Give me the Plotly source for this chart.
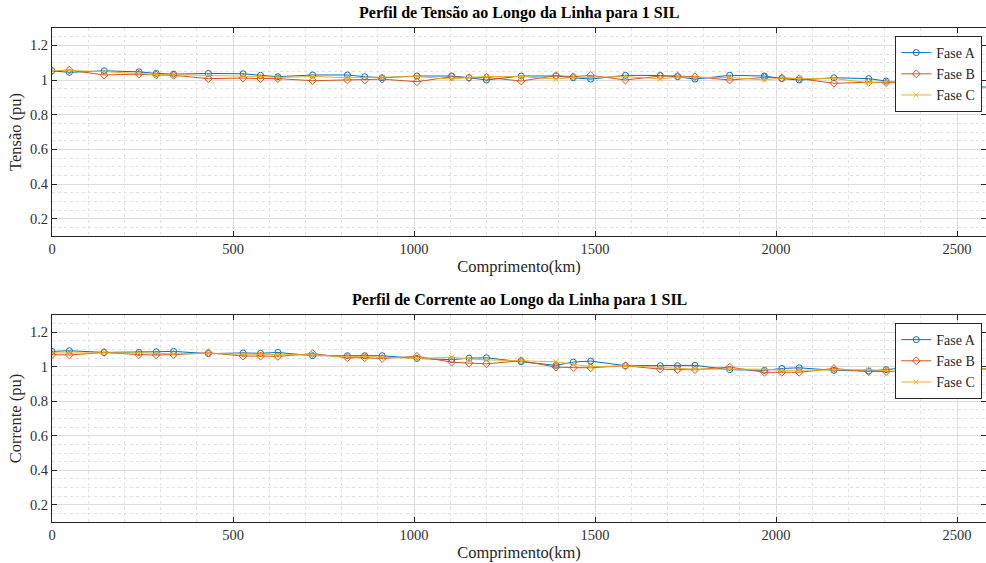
import plotly.graph_objects as go

# ---- data ----
x_km = [0, 48, 144, 240, 288, 336, 432, 528, 576, 624, 720, 816, 864, 912, 1008,
        1104, 1152, 1200, 1296, 1392, 1440, 1488, 1584, 1680, 1728, 1776, 1872,
        1968, 2016, 2064, 2160, 2256, 2304, 2352, 2448, 2544, 2592]

tensao_A = [1.053, 1.044, 1.053, 1.047, 1.038, 1.034, 1.038, 1.036, 1.027, 1.019, 1.029,
            1.029, 1.019, 1.013, 1.023, 1.023, 1.013, 1.000, 1.023, 1.023, 1.013, 1.005,
            1.027, 1.026, 1.019, 1.005, 1.027, 1.023, 1.008, 1.000, 1.013, 1.008, 0.994,
            0.977, 0.970, 0.962, 0.958]
tensao_B = [1.053, 1.057, 1.029, 1.034, 1.029, 1.027, 1.008, 1.011, 1.008, 1.008, 0.996,
            1.000, 1.000, 1.005, 0.990, 1.019, 1.013, 1.015, 0.994, 1.025, 1.019, 1.027,
            1.000, 1.023, 1.023, 1.019, 1.000, 1.015, 1.011, 1.008, 0.981, 0.987, 0.985,
            0.985, 0.955, 0.960, 0.955]
tensao_C = [1.055, 1.055, 1.048, 1.035, 1.032, 1.030, 1.027, 1.020, 1.020, 1.015, 1.020,
            1.013, 1.015, 1.015, 1.020, 1.005, 1.015, 1.020, 1.020, 1.005, 1.015, 1.015,
            1.020, 1.006, 1.017, 1.015, 1.015, 1.000, 1.013, 1.008, 1.008, 0.985, 0.990,
            0.990, 0.965, 0.958, 0.955]

corrente_A = [1.089, 1.093, 1.083, 1.083, 1.087, 1.089, 1.076, 1.080, 1.078, 1.083, 1.064,
              1.064, 1.064, 1.064, 1.048, 1.041, 1.050, 1.052, 1.029, 1.008, 1.027, 1.033,
              1.006, 1.006, 1.006, 1.008, 0.983, 0.979, 0.990, 0.994, 0.979, 0.975, 0.983,
              0.994, 0.987, 0.988, 0.988]
corrente_B = [1.070, 1.068, 1.083, 1.070, 1.068, 1.070, 1.081, 1.062, 1.062, 1.060, 1.076,
              1.052, 1.052, 1.048, 1.060, 1.027, 1.021, 1.017, 1.035, 0.998, 0.995, 0.994,
              1.006, 0.986, 0.983, 0.983, 0.998, 0.968, 0.968, 0.968, 0.990, 0.972, 0.972,
              0.972, 0.985, 0.988, 0.988]
corrente_C = [1.080, 1.080, 1.083, 1.080, 1.078, 1.075, 1.076, 1.072, 1.070, 1.068, 1.068,
              1.058, 1.060, 1.055, 1.048, 1.055, 1.045, 1.040, 1.033, 1.029, 1.015, 1.000,
              1.006, 0.998, 0.990, 0.986, 0.986, 0.986, 0.979, 0.979, 0.983, 0.983, 0.977,
              0.972, 0.985, 0.988, 0.988]

fase_names = ["Fase A", "Fase B", "Fase C"]
colors = ["#0072BD", "#D95319", "#EDB120"]
symbols = ["circle-open", "diamond-open", "x-thin-open"]

y_ticks = [0.2, 0.4, 0.6, 0.8, 1, 1.2]
y_ticktext = ["0.2", "0.4", "0.6", "0.8", "1", "1.2"]
x_ticks = [0, 500, 1000, 1500, 2000, 2500]

titles = ["Perfil de Tensão ao Longo da Linha para 1 SIL",
          "Perfil de Corrente ao Longo da Linha para 1 SIL"]
ylabels = ["Tensão (pu)", "Corrente (pu)"]
xlabel = "Comprimento(km)"

FONT = "Liberation Serif, Times New Roman, serif"

fig = go.Figure()

series_sets = [(tensao_A, tensao_B, tensao_C), (corrente_A, corrente_B, corrente_C)]
for p, series in enumerate(series_sets):
    xa = "x" if p == 0 else "x2"
    ya = "y" if p == 0 else "y2"
    lg = "legend" if p == 0 else "legend2"
    for i, ys in enumerate(series):
        fig.add_trace(go.Scatter(
            x=x_km, y=ys, name=fase_names[i], mode="lines+markers",
            line=dict(color=colors[i], width=1),
            marker=dict(symbol=symbols[i], size=6 if i < 2 else 5,
                        color=colors[i], line=dict(width=1, color=colors[i])),
            xaxis=xa, yaxis=ya, legend=lg, showlegend=True))

top_dom = [1 - 236 / 563, 1 - 28 / 563]
bot_dom = [1 - 522 / 563, 1 - 315 / 563]

axis_common = dict(
    showline=True, linecolor="#262626", linewidth=1, mirror="ticks",
    ticks="inside", ticklen=5, tickcolor="#262626", tickwidth=1,
    showgrid=True, gridcolor="#dcdcdc", gridwidth=1, zeroline=False,
    tickfont=dict(family=FONT, size=14.5, color="#303030"),
)
minor_x = dict(dtick=100, showgrid=True, gridcolor="#e2e2e2", griddash="dot", gridwidth=1, ticks="")
minor_y = dict(dtick=0.05, showgrid=True, gridcolor="#e2e2e2", griddash="dot", gridwidth=1, ticks="")

for k, dom in enumerate([top_dom, bot_dom]):
    sx = "xaxis" if k == 0 else "xaxis2"
    sy = "yaxis" if k == 0 else "yaxis2"
    fig.update_layout(**{
        sx: dict(axis_common, domain=[0, 1], range=[0, 2580], tickvals=x_ticks,
                 anchor="y" if k == 0 else "y2", minor=minor_x,
                 title=dict(text=xlabel, font=dict(family=FONT, size=16.5, color="#262626"), standoff=1)),
        sy: dict(axis_common, domain=dom, range=[0.1, 1.3], tickvals=y_ticks, ticktext=y_ticktext,
                 anchor="x" if k == 0 else "x2", minor=minor_y,
                 title=dict(text=ylabels[k], font=dict(family=FONT, size=16.5, color="#262626"), standoff=4)),
    })

# titles
for k, dom in enumerate([top_dom, bot_dom]):
    fig.add_annotation(text="<b>" + titles[k] + "</b>", xref="paper", yref="paper",
                       x=0.5, y=dom[1], yshift=4, xanchor="center", yanchor="bottom",
                       showarrow=False, font=dict(family=FONT, size=16, color="#000000"))

legend_common = dict(bgcolor="white", bordercolor="#262626", borderwidth=1,
                     font=dict(family=FONT, size=14, color="#262626"),
                     xanchor="right", yanchor="top", x=0.996,
                     tracegroupgap=0, itemwidth=30)
fig.update_layout(
    legend=dict(legend_common, y=1 - 36 / 563),
    legend2=dict(legend_common, y=1 - 323 / 563),
)

fig.update_layout(
    width=986, height=563,
    margin=dict(l=52, r=0, t=0, b=0),
    paper_bgcolor="white", plot_bgcolor="white",
    font=dict(family=FONT, color="#262626"),
)

fig.write_html("out.html")
